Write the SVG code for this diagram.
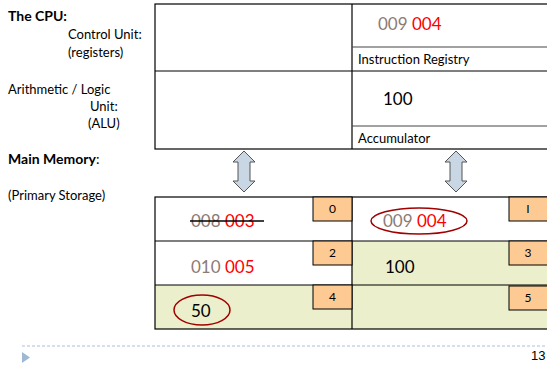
<svg xmlns="http://www.w3.org/2000/svg" width="547" height="367" viewBox="0 0 547 367">
<style>
text{font-family:"Lato","Open Sans","Liberation Sans",sans-serif;fill:#000}
.lbl{font-size:13px}
.b{font-weight:bold;font-size:14px}
.box{fill:#fff;stroke:#000;stroke-width:1.2}
.grid{stroke:#000;stroke-width:1.2;fill:none}
.sub{stroke:#444;stroke-width:1}
.grn{fill:#ebefcb}
.org{fill:#fdca93;stroke:#000;stroke-width:1}
.num{font-size:12px;text-anchor:middle}
.gr{fill:#8c7b74}
.rd{fill:#ff0000}
.val{font-size:17px}
.arr{fill:#c9d6e3;stroke:#555;stroke-width:1}
.ell{fill:none;stroke:#a00000;stroke-width:1.5}
</style>
<g id="labels">
<text class="b" x="8" y="21">The CPU:</text>
<text class="lbl" x="68" y="39">Control Unit:</text>
<text class="lbl" x="68" y="57">(registers)</text>
<text class="lbl" x="8" y="94">Arithmetic / Logic</text>
<text class="lbl" x="90" y="111">Unit:</text>
<text class="lbl" x="88" y="128">(ALU)</text>
<text class="b" x="8" y="164">Main Memory<tspan font-weight="normal">:</tspan></text>
<text class="lbl" x="8" y="200">(Primary Storage)</text>
</g>
<g id="cpu">
<rect class="box" x="155" y="4" width="400" height="145"/>
<line class="grid" x1="352" y1="4" x2="352" y2="149"/>
<line class="grid" x1="155" y1="71" x2="547" y2="71"/>
<line class="sub" x1="352" y1="47" x2="547" y2="47"/>
<line class="sub" x1="352" y1="126" x2="547" y2="126"/>
<text class="val" x="378" y="30"><tspan class="gr">009 </tspan><tspan class="rd">004</tspan></text>
<text class="lbl" x="358" y="64">Instruction Registry</text>
<text class="val" x="383" y="105">100</text>
<text class="lbl" x="358" y="143">Accumulator</text>
</g>
<g id="connectors">
<path class="arr" d="M244,151 L255,162 L250,162 L250,181 L255,181 L244,192 L233,181 L238,181 L238,162 L233,162 Z"/>
<path class="arr" d="M456,151 L467,162 L462,162 L462,181 L467,181 L456,192 L445,181 L450,181 L450,162 L445,162 Z"/>
</g>
<g id="memory">
<rect class="grn" x="352" y="241" width="195" height="44"/>
<rect class="grn" x="155" y="285" width="392" height="44"/>
<rect class="grid" x="155" y="197" width="400" height="132"/>
<line class="grid" x1="352" y1="197" x2="352" y2="329"/>
<line class="grid" x1="155" y1="241" x2="547" y2="241"/>
<line class="grid" x1="155" y1="285" x2="547" y2="285"/>
</g>
<g id="cell0">
<rect class="org" x="313" y="197" width="39" height="24"/>
<text class="num" x="332.5" y="213">0</text>
<text class="val" x="191" y="227"><tspan class="gr">008 </tspan><tspan class="rd">003</tspan></text>
<line x1="190" y1="221" x2="264" y2="221" stroke="#000" stroke-width="1.3"/>
</g>
<g id="cell1">
<rect class="org" x="509" y="197" width="46" height="24"/>
<text class="num" x="528" y="213">I</text>
<text class="val" x="383" y="227"><tspan class="gr">009 </tspan><tspan class="rd">004</tspan></text>
<ellipse class="ell" cx="419" cy="221" rx="48" ry="13"/>
</g>
<g id="cell2">
<rect class="org" x="313" y="241" width="39" height="24"/>
<text class="num" x="332.5" y="257">2</text>
<text class="val" x="191" y="273"><tspan class="gr">010 </tspan><tspan class="rd">005</tspan></text>
</g>
<g id="cell3">
<rect class="org" x="509" y="241" width="46" height="24"/>
<text class="num" x="528" y="257">3</text>
<text class="val" x="385" y="273">100</text>
</g>
<g id="cell4">
<rect class="org" x="313" y="285" width="39" height="24"/>
<text class="num" x="332.5" y="301">4</text>
<text class="val" x="191" y="317">50</text>
<ellipse class="ell" cx="202" cy="310" rx="28" ry="15"/>
</g>
<g id="cell5">
<rect class="org" x="509" y="286" width="46" height="24"/>
<text class="num" x="528" y="302">5</text>
</g>
<g id="footer">
<line x1="22" y1="346" x2="547" y2="346" stroke="#a9c2dc" stroke-width="1.2" stroke-dasharray="3,2"/>
<polygon points="22,352 30,357.5 22,363" fill="#9fb8d3"/>
<text x="531" y="360" font-size="13" style="font-family:'Liberation Sans',sans-serif">13</text>
</g>
</svg>
